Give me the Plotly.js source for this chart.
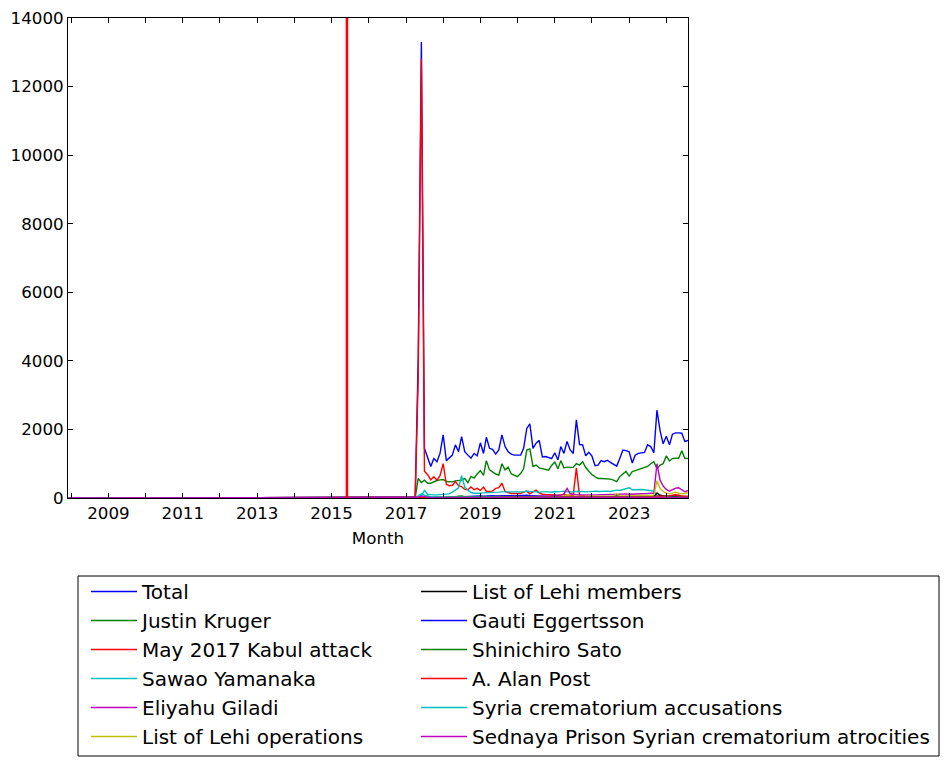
<!DOCTYPE html>
<html><head><meta charset="utf-8">
<script src="https://cdn.plot.ly/plotly-3.0.1.min.js"></script>
<style>html,body{margin:0;padding:0;background:#fff}</style>
</head><body><div id="chart" style="width:949px;height:766px"></div>
<script>
// First point (2007-12) then monthly 2017-01 .. 2024-08
const leadMonth = '2007-12-01';
const firstYear = 2017, lastYear = 2024, lastMonthOfLastYear = 8;
const eventDate = '2015-06-01';

const seriesNames = ['Total','Justin Kruger','May 2017 Kabul attack','Sawao Yamanaka','Eliyahu Giladi',
  'List of Lehi operations','List of Lehi members','Gauti Eggertsson','Shinichiro Sato','A. Alan Post',
  'Syria crematorium accusations','Sednaya Prison Syrian crematorium atrocities'];
const seriesColors = ['#0000ff','#008000','#ff0000','#00bfbf','#bf00bf','#bfbf00','#000000',
  '#0000ff','#008000','#ff0000','#00bfbf','#bf00bf'];

const total = [0,
  0,0,0,0,4100,13300,1450,1150,920,1150,1060,1300,
  1840,1090,1160,1250,1550,1350,1790,1350,1250,1160,1300,1230,
  1610,1300,1770,1450,1420,1280,1400,1840,1500,1350,1280,1250,
  1250,1250,1450,2030,2160,1450,1600,1680,1200,1210,1180,1150,
  1320,1110,1500,1300,1650,1400,1300,2280,1560,1550,1230,1330,
  1220,940,960,1090,1060,1100,1040,980,930,1150,1400,1380,
  1350,1020,1250,1300,1310,1330,1550,1500,1320,2560,1960,1580,
  1800,1550,1860,1900,1900,1890,1650,1680];
const justinKruger = [0,
  0,0,0,0,570,450,520,430,430,480,510,530,
  540,480,470,470,500,520,520,570,450,630,580,700,
  800,660,1090,820,760,700,670,1000,820,900,700,670,
  620,720,850,1400,1430,920,960,880,860,820,810,950,
  1050,850,1090,880,900,890,900,1000,960,1060,890,780,
  680,620,570,570,570,560,550,520,480,620,710,780,
  640,770,800,830,840,880,920,1000,1060,860,960,1000,
  1230,1080,1150,1160,1160,1380,1160,1150];
const kabulAttack = [0,
  0,0,0,0,3500,12800,780,680,530,620,520,650,
  1000,400,360,370,480,360,330,250,240,320,240,280,
  220,320,190,190,200,280,300,430,190,160,130,130,
  130,130,170,200,120,180,230,150,110,100,90,90,
  90,80,90,100,80,80,80,880,60,60,50,50,
  50,40,40,40,40,40,40,40,40,40,40,40,
  50,40,40,40,40,40,40,40,40,60,50,40,
  40,50,40,40,90,50,40,40];
const sawaoYamanaka = [0,
  0,0,0,0,20,60,220,110,90,90,90,100,
  110,100,120,170,240,300,650,320,230,160,140,130,
  140,150,150,160,160,170,170,180,180,170,170,180,
  190,180,180,200,190,180,180,170,180,190,180,170,
  190,180,190,200,180,170,180,190,200,190,180,190,
  200,200,190,200,210,200,190,210,230,220,250,260,
  300,240,250,240,250,240,230,220,200,80,60,60,
  50,50,40,40,40,50,40,40];
const eliyahuGiladi = [0,
  0,0,0,0,10,15,15,15,15,20,20,20,
  20,20,20,25,25,25,30,30,30,30,35,35,
  35,40,40,40,40,45,45,50,50,50,55,55,
  60,60,60,60,60,65,65,65,70,70,70,70,
  75,75,80,120,280,130,100,90,90,85,85,90,
  90,90,95,95,100,100,100,100,110,110,110,120,
  110,110,120,120,120,130,130,140,140,1000,520,350,
  250,200,250,290,300,250,180,220];
const lehiOperations = [0,
  0,0,0,0,5,5,5,5,5,10,10,10,
  10,10,10,10,15,15,15,15,20,20,20,20,
  20,25,25,25,25,25,25,30,30,30,30,30,
  30,30,35,35,35,35,35,35,35,40,40,40,
  40,40,45,60,90,50,45,45,45,45,50,50,
  50,50,50,55,55,55,60,60,130,60,60,60,
  60,65,70,70,70,70,70,75,80,500,280,190,
  140,120,150,170,140,120,130,160];
const lehiMembers = [0,
  0,0,0,0,5,5,5,5,5,10,10,10,
  10,10,10,10,10,10,15,15,15,15,15,15,
  15,15,15,15,15,15,15,15,15,20,20,20,
  20,20,20,20,20,20,20,20,20,20,20,20,
  20,20,25,25,25,25,25,25,25,25,25,25,
  25,25,25,25,25,25,25,30,60,30,25,25,
  25,25,25,25,25,25,25,25,30,150,80,60,
  50,40,45,60,45,40,40,40];
const gautiEggertsson = [0,
  0,0,0,0,5,10,10,10,10,10,15,15,
  20,20,20,25,30,30,40,45,50,55,60,70,
  60,55,60,80,70,60,65,70,80,75,70,60,
  65,70,90,80,70,60,50,45,40,35,30,30,
  25,25,20,20,20,20,20,20,20,20,15,15,
  15,15,15,15,15,15,15,15,15,15,15,15,
  15,15,15,15,15,15,15,20,15,15,15,15,
  15,15,15,15,15,15,15,15];
const shinichiroSato = [0,
  0,0,0,0,10,15,15,15,15,20,20,20,
  25,25,25,30,40,55,60,40,30,30,30,30,
  35,30,30,30,30,30,25,25,25,25,25,30,
  30,30,35,35,30,30,30,25,25,25,25,30,
  30,25,25,25,25,25,25,30,25,25,25,20,
  20,20,20,20,20,20,20,20,20,25,25,25,
  25,20,20,20,20,20,20,20,20,30,25,25,
  25,25,25,25,25,25,25,25];
const alanPost = [0,
  0,0,0,0,5,10,10,10,10,10,10,15,
  15,15,15,15,15,15,15,20,20,20,20,20,
  20,20,20,20,20,25,25,25,25,25,25,25,
  30,30,30,30,30,30,30,30,30,30,30,30,
  30,35,35,35,35,35,35,35,35,30,30,30,
  30,30,30,30,30,30,30,30,30,35,35,35,
  35,40,40,40,40,40,40,40,40,50,45,45,
  50,60,80,100,60,50,50,50];
const syriaCrematorium = [0,
  0,0,0,0,60,120,80,50,40,35,30,30,
  30,25,25,25,25,20,20,20,20,20,20,20,
  20,20,20,20,15,15,15,15,15,15,15,15,
  15,15,15,15,15,15,15,15,15,15,15,15,
  15,15,15,15,15,15,15,15,15,15,15,15,
  15,15,15,15,15,15,15,15,15,15,15,15,
  15,15,15,15,15,15,15,15,15,20,15,15,
  15,15,15,15,15,15,15,15];
const sednayaPrison = [0,
  0,0,0,0,20,60,30,20,15,10,10,10,
  10,10,10,10,10,10,10,10,10,10,10,10,
  10,10,10,10,10,10,10,10,10,10,10,10,
  10,10,10,10,10,10,10,10,10,10,10,10,
  10,10,10,10,10,10,10,10,10,10,10,10,
  10,10,10,10,10,10,10,10,10,10,10,10,
  10,10,10,10,10,10,10,10,10,20,10,10,
  10,10,10,10,10,10,10,10];

const seriesValues = [total, justinKruger, kabulAttack, sawaoYamanaka, eliyahuGiladi, lehiOperations,
  lehiMembers, gautiEggertsson, shinichiroSato, alanPost, syriaCrematorium, sednayaPrison];

const months = [leadMonth];
for (let y = firstYear; y <= lastYear; y++) {
  for (let m = 1; m <= 12; m++) {
    if (y === lastYear && m > lastMonthOfLastYear) break;
    months.push(y + '-' + String(m).padStart(2, '0') + '-01');
  }
}

const traces = seriesNames.map((name, i) => ({
  type: 'scatter', mode: 'lines', name: name,
  x: months, y: seriesValues[i],
  line: {color: seriesColors[i], width: 1.4},
  legend: i < 6 ? 'legend' : 'legend2'
}));

const FONT = 'DejaVu Sans, Verdana, sans-serif';
const legendBase = {
  orientation: 'v', xref: 'container', yref: 'container', xanchor: 'left',
  y: 1 - 572 / 766, yanchor: 'top', itemwidth: 46,
  font: {size: 20, family: FONT, color: '#000'}, bgcolor: 'rgba(0,0,0,0)', borderwidth: 0,
  traceorder: 'normal'
};
const layout = {
  width: 949, height: 766,
  margin: {l: 68, r: 261, t: 18, b: 268, autoexpand: false},
  paper_bgcolor: '#ffffff', plot_bgcolor: '#ffffff',
  font: {family: FONT, size: 16.7, color: '#000'},
  showlegend: true,
  xaxis: {
    type: 'date', range: [leadMonth, '2024-08-01'],
    showline: true, linecolor: '#000', linewidth: 1, mirror: 'ticks',
    ticks: 'inside', ticklen: 5, tickcolor: '#000', tickwidth: 1,
    tick0: '2009-01-01', dtick: 'M24', tickformat: '%Y',
    minor: {dtick: 'M12', ticks: 'inside', ticklen: 5, tickcolor: '#000', showgrid: false},
    showgrid: false, zeroline: false,
    title: {text: 'Month', font: {size: 16.7}, standoff: 10}
  },
  yaxis: {
    range: [0, 14000], dtick: 2000, tickformat: 'd',
    showline: true, linecolor: '#000', linewidth: 1, mirror: 'ticks',
    ticks: 'inside', ticklen: 5, tickcolor: '#000', tickwidth: 1,
    showgrid: false, zeroline: false
  },
  legend: Object.assign({}, legendBase, {x: 86 / 949}),
  legend2: Object.assign({}, legendBase, {x: 416 / 949}),
  shapes: [
    {type: 'line', xref: 'x', yref: 'paper', x0: eventDate, x1: eventDate, y0: 0, y1: 1,
     line: {color: '#ff0000', width: 2.6}, layer: 'above'},
    {type: 'rect', xref: 'paper', yref: 'paper', x0: 0.01613, x1: 1.40484, y0: -0.1625, y1: -0.5375,
     line: {color: '#000', width: 1}, fillcolor: 'rgba(0,0,0,0)'}
  ]
};

Plotly.newPlot('chart', traces, layout, {displayModeBar: false, staticPlot: true});
</script>
</body></html>
